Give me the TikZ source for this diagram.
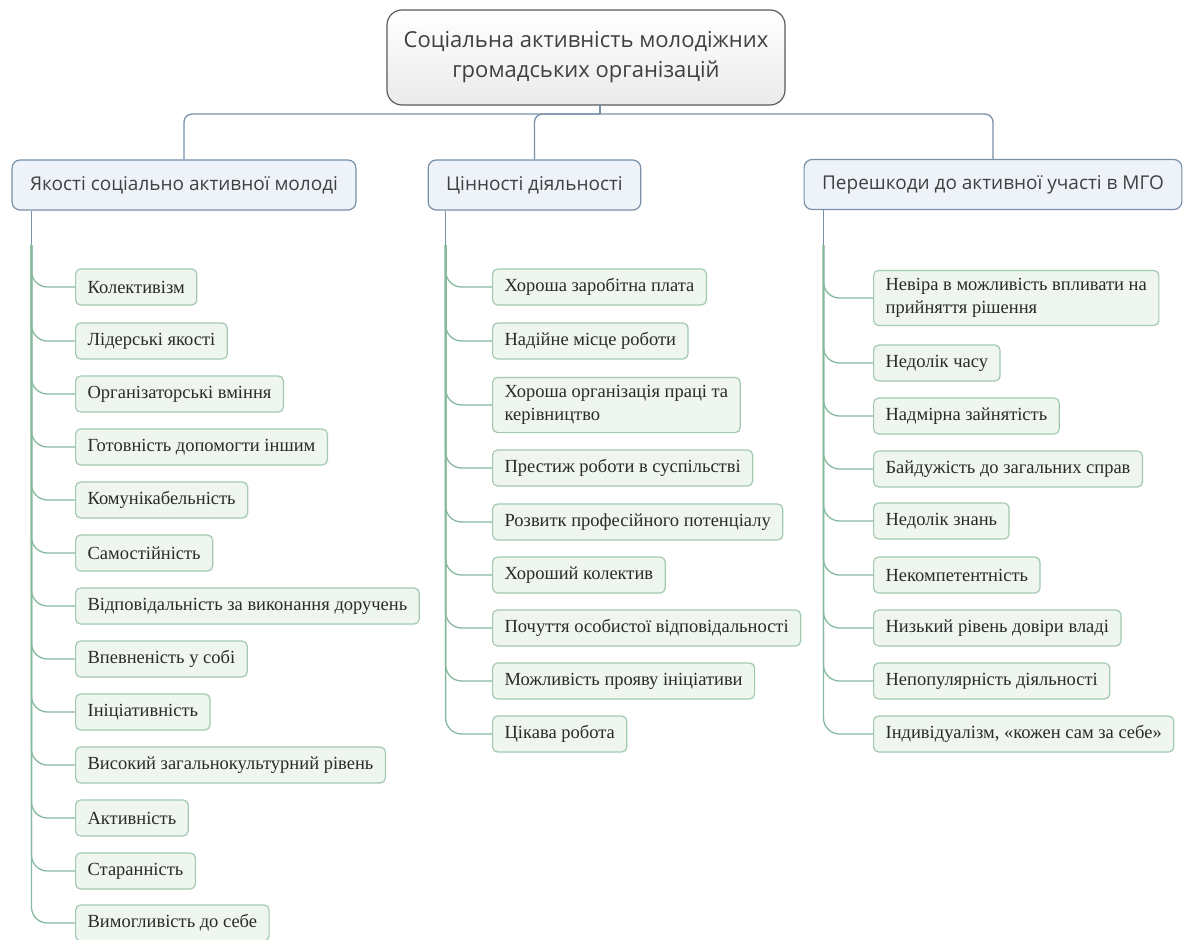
\documentclass[tikz,border=0pt]{standalone}
\usepackage{fontspec}
\setmainfont{Liberation Serif}
\newfontfamily\headfont{Open Sans}
\definecolor{rootline}{HTML}{5A5A5A}
\definecolor{headline}{HTML}{7890A8}
\definecolor{headfill}{HTML}{EEF3FA}
\definecolor{leafline}{HTML}{A3C9B0}
\definecolor{leaffill}{HTML}{EEF6EF}
\definecolor{branchgreen}{HTML}{86B99D}
\definecolor{textdark}{HTML}{2A2A2A}
\definecolor{textgray}{HTML}{404040}
\tikzset{
  rootbox/.style={draw=rootline, line width=1.2, rounded corners=15, top color=white, bottom color=black!8,
    minimum width=398, minimum height=95, align=center, text=textgray,
    font=\headfont\fontsize{22}{30}\selectfont},
  headbox/.style={draw=headline, fill=headfill, line width=1.2, rounded corners=8, inner xsep=18,
    minimum height=50, text=textgray, font=\headfont\fontsize{19}{23}\selectfont},
  leafbox/.style={draw=leafline, fill=leaffill, line width=1.2, rounded corners=5, inner xsep=12, inner ysep=8,
    minimum height=36, anchor=west, align=left, text=textdark, font=\fontsize{18.5}{23}\selectfont},
  topline/.style={draw=headline, line width=1.3, rounded corners=8},
  branch/.style={draw=branchgreen, line width=1.3, rounded corners=16}
}
\begin{document}
\begin{tikzpicture}[x=1pt,y=-1pt]
\useasboundingbox (0,0) rectangle (1184,940);
\node[rootbox] (root) at (586,57.5) {Соціальна активність молодіжних\\громадських організацій};
\node[headbox] (qual) at (184,185) {Якості соціально активної молоді};
\node[headbox] (val) at (534.5,185) {Цінності діяльності};
\node[headbox] (bar) at (993,184.5) {Перешкоди до активної участі в МГО};
% root to the three groups
\coordinate (hub) at (600,114);
\draw[topline] (root.south -| hub) -- (hub);
\draw[topline] (hub) -| (qual.north);
\draw[topline] (hub) -| (val.north);
\draw[topline] (hub) -| (bar.north);
% trunks
\coordinate (qt) at ([xshift=20]qual.south west |- 0,245);
\coordinate (vt) at ([xshift=18]val.south west |- 0,245);
\coordinate (bt) at ([xshift=20]bar.south west |- 0,245);
\draw[topline] (qual.south -| qt) -- (qt);
\draw[topline] (val.south -| vt) -- (vt);
\draw[topline] (bar.south -| bt) -- (bt);
\foreach \y/\t [count=\i] in {287/Колективізм, 341/Лідерські якості, 394/Організаторські вміння,
  447/Готовність допомогти іншим, 500/Комунікабельність, 553/Самостійність,
  606/Відповідальність за виконання доручень, 659/Впевненість у собі, 712/Ініціативність,
  765/Високий загальнокультурний рівень, 818/Активність, 871/Старанність, 923/Вимогливість до себе} {
\node[leafbox] (q\i) at (75,\y) {\t};
\draw[branch] (qt) |- (q\i.west);
}
\foreach \y/\t [count=\i] in {287/Хороша заробітна плата, 341/Надійне місце роботи,
  {405/Хороша організація праці та\\керівництво}, 468/Престиж роботи в суспільстві,
  522/Розвитк професійного потенціалу, 575/Хороший колектив,
  628/Почуття особистої відповідальності, 681/Можливість прояву ініціативи, 734/Цікава робота} {
\node[leafbox] (v\i) at (492,\y) {\t};
\draw[branch] (vt) |- (v\i.west);
}
\foreach \y/\t [count=\i] in {{298/Невіра в можливість впливати на\\прийняття рішення}, 363/Недолік часу,
  416/Надмірна зайнятість, 469/Байдужість до загальних справ, 521/Недолік знань,
  575/Некомпетентність, 628/Низький рівень довіри владі, 681/Непопулярність  діяльності,
  {734/Індивідуалізм, «кожен сам за себе»}} {
\node[leafbox] (b\i) at (873,\y) {\t};
\draw[branch] (bt) |- (b\i.west);
}
\end{tikzpicture}
\end{document}
